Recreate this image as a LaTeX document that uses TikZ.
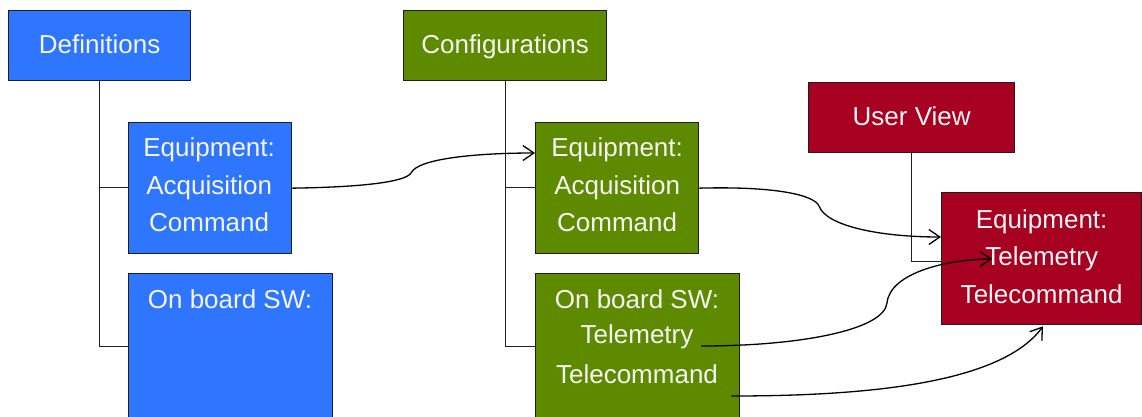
\documentclass[tikz,border=0pt]{standalone}
\usepackage{fontspec}
\setmainfont{Liberation Sans}
\usetikzlibrary{arrows.meta,calc}
\definecolor{cblue}{RGB}{46,117,255}
\definecolor{cgreen}{RGB}{94,138,0}
\definecolor{cred}{RGB}{168,0,32}
\definecolor{cedge}{RGB}{30,30,30}
\definecolor{ctext}{RGB}{245,245,245}
\tikzset{
  box/.style={draw=cedge, line width=1.3pt, inner sep=0pt, anchor=north west},
  txt/.style={text=ctext, align=center, font=\fontsize{26}{37.5}\selectfont, inner sep=0pt},
  tree/.style={draw=cedge, line width=1.2pt},
  conn/.style={draw=black, line width=1.3pt, -{Straight Barb[length=11pt,width=15pt,line width=1.3pt]}}
}
\begin{document}
\begin{tikzpicture}[x=1pt,y=-1pt]
\useasboundingbox (0,0) rectangle (1142,416);
\clip (0,0) rectangle (1142,416);
% boxes
\node[box, fill=cblue, minimum width=182pt, minimum height=70pt] (def) at (8,10) {};
\node[box, fill=cgreen, minimum width=203pt, minimum height=70pt] (cfg) at (403,10) {};
\node[box, fill=cred, minimum width=206pt, minimum height=70pt] (uv) at (808,82) {};
\node[box, fill=cblue, minimum width=163pt, minimum height=131pt] (deq) at (128,122) {};
\node[box, fill=cblue, minimum width=204pt, minimum height=160pt] (dsw) at (128,273) {};
\node[box, fill=cgreen, minimum width=163pt, minimum height=131pt] (ceq) at (535,122) {};
\node[box, fill=cgreen, minimum width=204pt, minimum height=160pt] (csw) at (535,273) {};
\node[box, fill=cred, minimum width=200pt, minimum height=132pt] (req) at (941,192) {};
% texts
\node[txt] (tdef) at ($(def.center)+(0,-1)$) {Definitions};
\node[txt] (tcfg) at ($(cfg.center)+(0,1)$) {Configurations};
\node[txt] (tuv) at ($(uv.center)+(0,-1)$) {User View};
\node[txt] (tdeq) at ($(deq.center)+(-1,-3)$) {Equipment:\\Acquisition\\Command};
\node[txt] (tceq) at ($(ceq.center)+(0,-3)$) {Equipment:\\Acquisition\\Command};
\node[txt] (tdsw) at (230,299) {On board SW:};
\node[txt] (tcsw1) at (637,299) {On board SW:};
\node[txt] (tcsw2) at (637,337) {Telemetry};
\node[txt] (tcsw3) at (637,374) {Telecommand};
\node[txt] (treq) at ($(req.center)+(0,-2)$) {Equipment:\\Telemetry\\Telecommand};
% tree lines
\draw[tree] (def.south) -- ($(def.south)+(0,265)$) coordinate (d2) -- (d2 -| dsw.west);
\draw[tree] ($(def.south)+(0,106)$) -- ($(def.south -| deq.west)+(0,106)$);
\draw[tree] (cfg.south) -- ($(cfg.south)+(0,265)$) coordinate (c2) -- (c2 -| csw.west);
\draw[tree] ($(cfg.south)+(0,106)$) -- ($(cfg.south -| ceq.west)+(0,106)$);
\draw[tree] (uv.south) -- ($(uv.south)+(0,108)$) coordinate (u2) -- (u2 -| req.west);
% connectors
\coordinate (a1) at ($(ceq.north west)+(0,31)$);
\draw[conn] (deq.east) .. controls (370,187) and (406,181) .. (411,173)
  .. controls (418,158) and (480,153) .. (a1);
\coordinate (a2) at ($(req.north west)+(0,45)$);
\draw[conn] (ceq.east) .. controls (780,186) and (815,196) .. (819,206)
  .. controls (826,226) and (880,237) .. (a2);
\coordinate (s3) at (701,346);
\coordinate (e3) at ($(req.north west)+(51,67)$);
\draw[conn] (s3) .. controls (800,346) and (884,330) .. (887,303)
  .. controls (890,272) and (950,259) .. (e3);
\coordinate (s4) at ($(csw.north east)+(-9,123)$);
\coordinate (e4) at ($(req.south west)+(102,1)$);
\draw[conn] (s4) .. controls (860,396) and (1000,385) .. (e4);
\end{tikzpicture}
\end{document}
